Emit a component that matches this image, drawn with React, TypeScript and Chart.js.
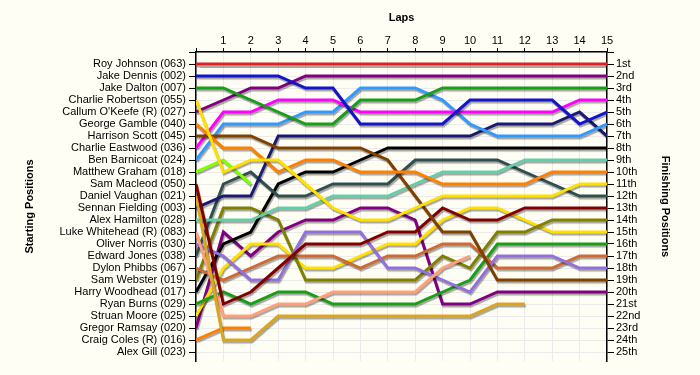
import React, { useEffect, useRef } from 'react';
import { Chart, registerables } from 'chart.js';

Chart.register(...registerables);

const lapTickLabels = ['', '1', '2', '3', '4', '5', '6', '7', '8', '9', '10', '11', '12', '13', '14', '15'];

const startingLabels = [
  'Roy Johnson (063)', 'Jake Dennis (002)', 'Jake Dalton (007)', 'Charlie Robertson (055)',
  "Callum O'Keefe (R) (027)", 'George Gamble (040)', 'Harrison Scott (045)', 'Charlie Eastwood (036)',
  'Ben Barnicoat (024)', 'Matthew Graham (018)', 'Sam Macleod (050)', 'Daniel Vaughan (021)',
  'Sennan Fielding (003)', 'Alex Hamilton (028)', 'Luke Whitehead (R) (083)', 'Oliver Norris (030)',
  'Edward Jones (038)', 'Dylon Phibbs (067)', 'Sam Webster (019)', 'Harry Woodhead (017)',
  'Ryan Burns (029)', 'Struan Moore (025)', 'Gregor Ramsay (020)', 'Craig Coles (R) (016)', 'Alex Gill (023)',
];

const finishingLabels = [
  '1st', '2nd', '3rd', '4th', '5th', '6th', '7th', '8th', '9th', '10th', '11th', '12th', '13th',
  '14th', '15th', '16th', '17th', '18th', '19th', '20th', '21st', '22nd', '23rd', '24th', '25th',
];

// positions lap by lap (lap 0 = start)
const royJohnson = [1, 1, 1, 1, 1, 1, 1, 1, 1, 1, 1, 1, 1, 1, 1, 1];
const jakeDennis = [2, 2, 2, 2, 3, 3, 6, 6, 6, 6, 4, 4, 4, 4, 6, 5];
const jakeDalton = [3, 3, 4, 5, 6, 6, 4, 4, 4, 3, 3, 3, 3, 3, 3, 3];
const charlieRobertson = [4, 10, 9, 9, 11, 13, 14, 14, 13, 12, 12, 12, 12, 12, 11, 11];
const callumOKeefe = [5, 4, 3, 3, 2, 2, 2, 2, 2, 2, 2, 2, 2, 2, 2, 2];
const georgeGamble = [6, 8, 8, 10, 9, 9, 10, 10, 10, 11, 11, 11, 11, 10, 10, 10];
const harrisonScott = [7, 7, 7, 8, 8, 8, 8, 9, 12, 15, 15, 19, 19, 19, 19, 19];
const charlieEastwood = [8, 5, 5, 4, 4, 4, 5, 5, 5, 5, 5, 5, 5, 5, 4, 4];
const benBarnicoat = [9, 6, 6, 6, 5, 5, 3, 3, 3, 4, 6, 7, 7, 7, 7, 6];
const matthewGraham = [10, 9, 11];
const samMacleod = [11, 21, 20, 18, 16, 16, 16, 15, 15, 13, 14, 14, 13, 13, 13, 13];
const danielVaughan = [12, 24, 24, 22, 22, 22, 22, 22, 22, 22, 22, 21, 21];
const sennanFielding = [13, 12, 12, 7, 7, 7, 7, 7, 7, 7, 7, 6, 6, 6, 5, 7];
const alexHamilton = [14, 14, 14, 13, 13, 12, 12, 12, 11, 10, 10, 10, 9, 9, 9, 9];
const lukeWhitehead = [15, 22, 22, 21, 21, 20, 20, 20, 20, 18, 17];
const oliverNorris = [16, 17, 19, 19, 15, 15, 15, 18, 18, 19, 20, 17, 17, 17, 18, 18];
const edwardJones = [17, 11, 10, 12, 12, 11, 11, 11, 9, 9, 9, 9, 10, 11, 12, 12];
const dylonPhibbs = [18, 19, 18, 17, 17, 17, 18, 17, 17, 16, 16, 18, 18, 18, 17, 17];
const samWebster = [19, 13, 13, 14, 19, 19, 19, 19, 19, 17, 18, 15, 15, 14, 14, 14];
const harryWoodhead = [20, 16, 15, 11, 10, 10, 9, 8, 8, 8, 8, 8, 8, 8, 8, 8];
const ryanBurns = [21, 20, 21, 20, 20, 21, 21, 21, 21, 20, 19, 16, 16, 16, 16, 16];
const struanMoore = [22, 18, 16, 16, 18, 18, 17, 16, 16, 14, 13, 13, 14, 15, 15, 15];
const gregorRamsay = [23, 15, 17, 15, 14, 14, 13, 13, 14, 21, 21, 20, 20, 20, 20, 20];
const craigColes = [24, 23, 23];
const alexGill: number[] = [];

const driverSeries = [
  royJohnson, jakeDennis, jakeDalton, charlieRobertson, callumOKeefe, georgeGamble, harrisonScott,
  charlieEastwood, benBarnicoat, matthewGraham, samMacleod, danielVaughan, sennanFielding, alexHamilton,
  lukeWhitehead, oliverNorris, edwardJones, dylonPhibbs, samWebster, harryWoodhead, ryanBurns,
  struanMoore, gregorRamsay, craigColes, alexGill,
];

const driverColors = [
  '#e02020', '#1414cc', '#1a9e1a', '#ffe000', '#800080', '#ff8000', '#804000',
  '#ff00ff', '#3399ff', '#7fff00', '#800000', '#daa520', '#1a1a70', '#66cdaa',
  '#ffa07a', '#9370db', '#2f4f4f', '#cd6a35', '#808000', '#000000', '#1a9e1a',
  '#ffe000', '#800080', '#ff8000', '#999999',
];

const FONT = "'Liberation Sans', Arial, sans-serif";
const BG = '#fffef4';

const bgPlugin = {
  id: 'bg',
  beforeDraw(chart: any) {
    const ctx = chart.ctx;
    ctx.save();
    ctx.fillStyle = BG;
    ctx.fillRect(0, 0, chart.width, chart.height);
    ctx.restore();
  },
};

const shadowPlugin = {
  id: 'lineShadow',
  beforeDatasetDraw(chart: any) {
    const ctx = chart.ctx;
    ctx.save();
    ctx.shadowColor = 'rgba(0,0,0,0.35)';
    ctx.shadowOffsetX = 1;
    ctx.shadowOffsetY = 2;
    ctx.shadowBlur = 1;
  },
  afterDatasetDraw(chart: any) {
    chart.ctx.restore();
  },
};

export default function App() {
  const ref = useRef<HTMLCanvasElement | null>(null);

  useEffect(() => {
    if (!ref.current) return;
    const datasets = driverSeries.map((series, i) => ({
      label: startingLabels[i],
      data: series.map((p, lap) => ({ x: lap, y: p })),
      borderColor: driverColors[i],
      backgroundColor: driverColors[i],
      borderWidth: 3,
      pointRadius: 0,
      pointHoverRadius: 0,
      tension: 0,
      fill: false,
      yAxisID: 'y',
    }));

    const tickList = Array.from({ length: 26 }, (_, i) => ({ value: i }));

    const chart = new Chart(ref.current, {
      type: 'line',
      data: { datasets },
      options: {
        animation: false,
        responsive: false,
        maintainAspectRatio: false,
        layout: { padding: { left: 0, right: 0, top: 0, bottom: 14 } },
        plugins: { legend: { display: false }, tooltip: { enabled: false } },
        scales: {
          x: {
            type: 'linear',
            position: 'top',
            min: 0,
            max: 15,
            afterFit: (s: any) => { s.height = 52; },
            ticks: {
              stepSize: 1,
              autoSkip: false,
              maxRotation: 0,
              padding: 0,
              color: '#000',
              font: { family: FONT, size: 11 },
              callback: (v: any) => lapTickLabels[v] ?? '',
            },
            grid: { color: '#ebebeb', tickColor: '#000', tickLength: 4, lineWidth: 1 },
            border: { display: true, color: '#000', width: 1.5 },
            title: {
              display: true,
              text: 'Laps',
              color: '#000',
              font: { family: FONT, size: 11, weight: 'bold' },
              padding: { top: 11, bottom: 0 },
            },
          },
          y: {
            type: 'linear',
            position: 'left',
            reverse: true,
            min: 0,
            max: 25.75,
            afterFit: (s: any) => { s.width = 196; },
            afterBuildTicks: (s: any) => { s.ticks = tickList.map((t) => ({ ...t })); },
            ticks: {
              autoSkip: false,
              padding: 3,
              color: '#000',
              font: { family: FONT, size: 11 },
              callback: (v: any) => startingLabels[v - 1] ?? '',
            },
            grid: { color: '#ebebeb', tickColor: '#000', tickLength: 7, lineWidth: 1 },
            border: { display: true, color: '#000', width: 1.5 },
            title: {
              display: true,
              text: 'Starting Positions',
              color: '#000',
              font: { family: FONT, size: 11, weight: 'bold' },
              padding: { top: 23, bottom: 0 },
            },
          },
          y2: {
            type: 'linear',
            position: 'right',
            reverse: true,
            min: 0,
            max: 25.75,
            afterFit: (s: any) => { s.width = 93; },
            afterBuildTicks: (s: any) => { s.ticks = tickList.map((t) => ({ ...t })); },
            ticks: {
              autoSkip: false,
              padding: 2,
              color: '#000',
              font: { family: FONT, size: 11 },
              callback: (v: any) => finishingLabels[v - 1] ?? '',
            },
            grid: { drawOnChartArea: false, tickColor: '#000', tickLength: 7, lineWidth: 1 },
            border: { display: true, color: '#000', width: 1.5 },
            title: {
              display: true,
              text: 'Finishing Positions',
              color: '#000',
              font: { family: FONT, size: 11, weight: 'bold' },
              padding: { top: 28, bottom: 0 },
            },
          },
        },
      },
      plugins: [bgPlugin, shadowPlugin],
    });
    return () => chart.destroy();
  }, []);

  return (
    <div style={{ position: 'fixed', left: 0, top: 0, width: 700, height: 375, background: BG }}>
      <canvas ref={ref} width={700} height={375} style={{ display: 'block', width: 700, height: 375 }} />
    </div>
  );
}
